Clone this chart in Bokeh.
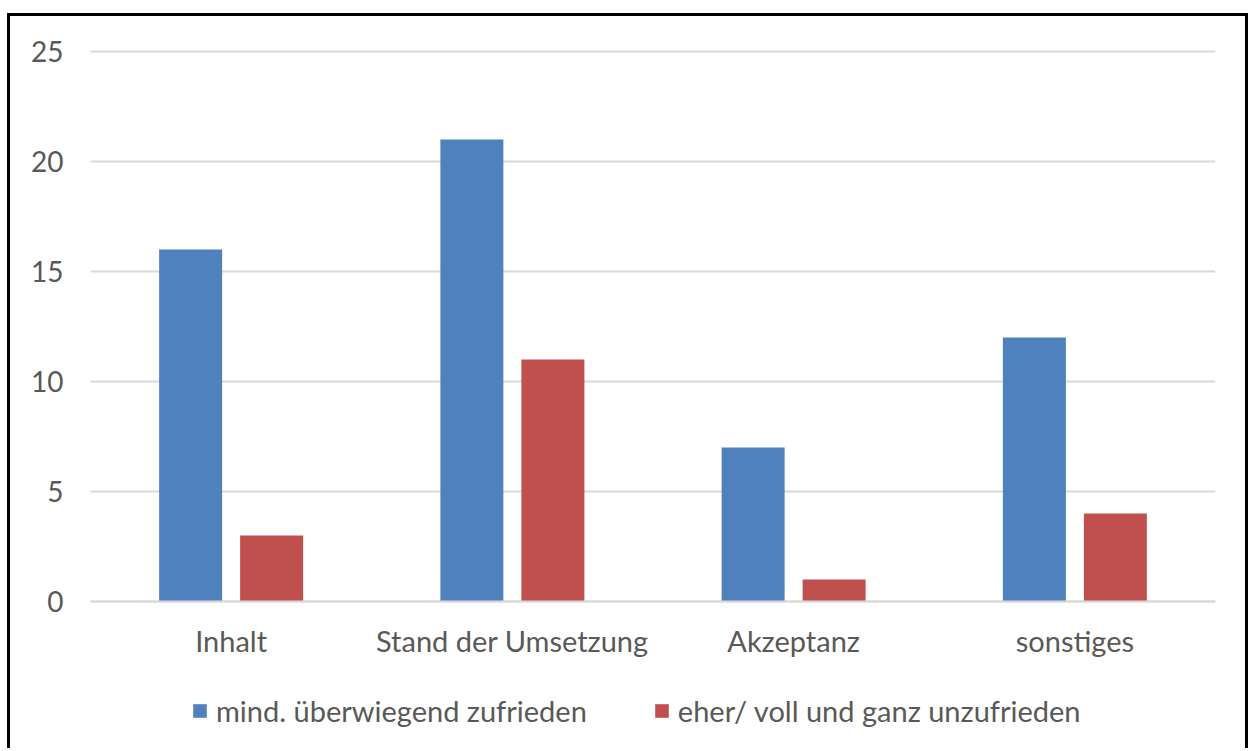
from bokeh.plotting import figure
from bokeh.models import FactorRange, Legend, LegendItem, ColumnDataSource, Range1d
from bokeh.transform import dodge
from bokeh.embed import file_html
from bokeh.resources import INLINE

categories = ["Inhalt", "Stand der Umsetzung", "Akzeptanz", "sonstiges"]
zufrieden = [16, 21, 7, 12]
unzufrieden = [3, 11, 1, 4]
series_names = ["mind. überwiegend zufrieden", "eher/ voll und ganz unzufrieden"]
y_ticks = [0, 5, 10, 15, 20, 25]

BLUE = "#4f81bd"
RED = "#c0504d"
TEXT = "#595959"
GRID = "#d9d9d9"
FONT = "Lato"

src = ColumnDataSource(dict(cat=categories, a=zufrieden, b=unzufrieden))

# the frame reaches the bottom edge; the category axis sits at y = 0
# and the legend is placed in the space underneath it
CANVAS_H = 735
TOP = 24
PX_PER_UNIT = 22
y_top = 25.5
y_bottom = y_top - (CANVAS_H - TOP) / PX_PER_UNIT

p = figure(
    width=1241, height=CANVAS_H,
    x_range=FactorRange(*categories), y_range=Range1d(y_bottom, y_top),
    output_backend="svg", toolbar_location=None,
    min_border_left=80, min_border_right=36,
    min_border_top=TOP, min_border_bottom=0,
)
p.margin = (13, 0, 0, 7)
# black frame around the whole chart
p.styles = {"border-top": "3px solid black", "border-left": "3px solid black",
            "border-right": "3px solid black"}
p.background_fill_color = "white"
p.border_fill_color = "white"
p.outline_line_color = None

r1 = p.vbar(x=dodge("cat", -0.144, range=p.x_range), top="a", width=0.224,
            source=src, fill_color=BLUE, line_color=None)
r2 = p.vbar(x=dodge("cat", 0.144, range=p.x_range), top="b", width=0.224,
            source=src, fill_color=RED, line_color=None)

p.xgrid.grid_line_color = None
p.ygrid.grid_line_color = GRID
p.ygrid.grid_line_width = 2
p.ygrid.ticker = y_ticks

p.yaxis.ticker = y_ticks
p.yaxis.axis_line_color = None
p.yaxis.major_tick_line_color = None
p.yaxis.minor_tick_line_color = None
p.yaxis.major_tick_out = 0
p.yaxis.major_label_standoff = 27
p.yaxis.major_label_text_font = FONT
p.yaxis.major_label_text_font_size = "28px"
p.yaxis.major_label_text_color = TEXT

p.xaxis.fixed_location = 0
p.xaxis.axis_line_color = GRID
p.xaxis.axis_line_width = 2
p.xaxis.major_tick_line_color = None
p.xaxis.minor_tick_line_color = None
p.xaxis.major_tick_out = 0
p.xaxis.major_tick_in = 0
p.xaxis.major_label_standoff = 21
p.xaxis.major_label_text_font = FONT
p.xaxis.major_label_text_font_size = "29px"
p.xaxis.major_label_text_color = TEXT

legend = Legend(
    items=[LegendItem(label=series_names[0], renderers=[r1]),
           LegendItem(label=series_names[1], renderers=[r2])],
    orientation="horizontal", location=(101, 23),
    glyph_width=17, glyph_height=17, label_standoff=8, spacing=66,
    padding=0, margin=0, border_line_color=None, background_fill_alpha=0,
    label_text_font=FONT, label_text_font_size="29px", label_text_color=TEXT,
)
p.add_layout(legend, "center")

open("out.html", "w").write(file_html(p, INLINE))
